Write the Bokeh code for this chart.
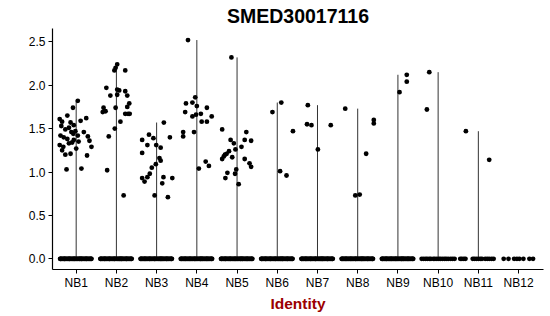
from bokeh.plotting import figure
from bokeh.models import FixedTicker, NumeralTickFormatter, ColumnDataSource
from bokeh.embed import file_html
from bokeh.resources import INLINE

# ---------------- data ----------------
categories = ["NB1", "NB2", "NB3", "NB4", "NB5", "NB6",
              "NB7", "NB8", "NB9", "NB10", "NB11", "NB12"]

# non-zero expression values per cluster and their jitter offsets (category units)
nb1_expr = [1.82, 1.74, 1.65, 1.62, 1.61, 1.58, 1.53, 1.57, 1.54, 1.59, 1.49, 1.51,
            1.46, 1.44, 1.47, 1.46, 1.42, 1.40, 1.38, 1.37, 1.42, 1.41, 1.33, 1.34,
            1.35, 1.31, 1.29, 1.29, 1.27, 1.25, 1.20, 1.21, 1.19, 1.03, 1.04, 1.36]
nb1_jit = [0.04, -0.08, -0.22, 0.25, -0.41, -0.35, -0.37, -0.14, -0.06, 0.11, -0.27, -0.18,
           -0.12, -0.07, -0.02, 0.19, -0.39, -0.31, -0.22, -0.06, 0.04, 0.29, -0.18, -0.10,
           0.06, -0.41, -0.32, 0.38, 0.00, -0.35, -0.27, -0.14, 0.27, -0.24, 0.13, 0.33]

nb2_expr = [2.24, 2.20, 2.17, 2.17, 1.97, 1.95, 1.94, 1.93, 1.88, 1.89, 1.88, 1.79,
            1.74, 1.70, 1.69, 1.74, 1.75, 1.67, 1.67, 1.67, 1.58, 1.50, 1.41, 1.02, 0.73]
nb2_jit = [0.02, -0.02, -0.05, 0.22, -0.25, 0.02, 0.07, 0.22, -0.15, 0.02, 0.27, 0.32,
           -0.32, -0.27, -0.34, -0.02, 0.27, 0.22, 0.29, 0.33, 0.10, -0.04, -0.19, -0.23, 0.18]

nb3_expr = [1.57, 1.37, 1.43, 1.39, 1.31, 1.31, 1.28, 1.40, 1.22, 1.09, 1.05,
            1.16, 1.13, 0.98, 0.94, 0.93, 0.89, 0.94, 0.87, 0.93, 0.73, 0.71]
nb3_jit = [0.18, -0.36, -0.19, -0.08, -0.23, -0.01, 0.10, 0.33, -0.36, -0.02, -0.12,
           0.07, 0.10, -0.17, -0.23, -0.36, -0.30, 0.17, 0.14, 0.39, -0.05, 0.28]

nb4_expr = [2.52, 1.86, 1.79, 1.80, 1.76, 1.74, 1.69, 1.64, 1.66, 1.67,
            1.64, 1.58, 1.58, 1.46, 1.41, 1.46, 1.04, 1.12, 1.07]
nb4_jit = [-0.22, -0.04, -0.27, -0.11, 0.00, 0.25, -0.29, -0.11, -0.02, 0.10,
           0.37, 0.12, 0.25, -0.34, -0.34, -0.07, 0.05, 0.22, 0.30]

nb5_expr = [2.32, 1.49, 1.46, 1.37, 1.33, 1.37, 1.36, 1.29, 1.26, 1.24, 1.21, 1.20,
            1.18, 1.15, 1.17, 1.15, 1.10, 1.06, 1.03, 0.98, 0.99, 0.93, 0.86]
nb5_jit = [-0.14, -0.37, 0.23, -0.16, -0.08, 0.19, 0.35, 0.11, -0.04, -0.20, -0.26, -0.30,
           -0.33, -0.37, -0.12, 0.19, 0.31, 0.35, -0.02, -0.05, -0.24, -0.29, 0.04]

nb6_expr = [1.80, 1.69, 1.47, 1.01, 0.96]
nb6_jit = [0.10, -0.12, 0.39, 0.07, 0.23]

nb7_expr = [1.77, 1.55, 1.54, 1.26, 1.54]
nb7_jit = [-0.24, -0.26, -0.15, 0.01, 0.33]

nb8_expr = [1.73, 1.21, 0.73, 0.74, 1.60, 1.56]
nb8_jit = [-0.31, 0.21, -0.06, 0.05, 0.40, 0.40]

nb9_expr = [2.12, 2.04, 1.92]
nb9_jit = [0.22, 0.22, 0.04]

nb10_expr = [2.15, 1.72]
nb10_jit = [-0.22, -0.28]

nb11_expr = [1.47, 1.14]
nb11_jit = [-0.31, 0.27]

nb12_expr = []
nb12_jit = []

# jitter offsets of the cells with zero expression
zero_jit_dense = [-0.40, -0.38, -0.36, -0.34, -0.32, -0.30, -0.28, -0.26, -0.24, -0.22,
                  -0.20, -0.18, -0.16, -0.14, -0.12, -0.10, -0.08, -0.06, -0.04, -0.02,
                  0.00, 0.02, 0.04, 0.06, 0.08, 0.10, 0.12, 0.14, 0.16, 0.18, 0.20,
                  0.22, 0.24, 0.26, 0.28, 0.30, 0.32, 0.34, 0.36, 0.38, -0.39, 0.37,
                  -0.17, 0.09, -0.05, 0.25, -0.29, 0.13]
zero_jit_nb10 = [-0.41, -0.36, -0.31, -0.27, -0.22, -0.18, -0.12, -0.08, -0.03, 0.02,
                 0.06, 0.11, 0.16, 0.20, 0.25, 0.31, 0.36, 0.41]
zero_jit_nb11 = [-0.45, -0.41, -0.36, -0.32, -0.14, -0.10, -0.05, 0.00, 0.05, 0.09,
                 0.17, 0.22, 0.27, 0.33, 0.38]
zero_jit_nb12 = [-0.37, -0.25, -0.11, -0.04, 0.02, 0.12, 0.27, 0.36]

expr_by_group = [nb1_expr, nb2_expr, nb3_expr, nb4_expr, nb5_expr, nb6_expr,
                 nb7_expr, nb8_expr, nb9_expr, nb10_expr, nb11_expr, nb12_expr]
jit_by_group = [nb1_jit, nb2_jit, nb3_jit, nb4_jit, nb5_jit, nb6_jit,
                nb7_jit, nb8_jit, nb9_jit, nb10_jit, nb11_jit, nb12_jit]
zero_by_group = [zero_jit_dense] * 9 + [zero_jit_nb10, zero_jit_nb11, zero_jit_nb12]

# ---------------- build ----------------
xs, ys = [], []
for i, (vals, jits, zj) in enumerate(zip(expr_by_group, jit_by_group, zero_by_group)):
    pos = i + 1
    for v, j in zip(vals, jits):
        xs.append(pos + j)
        ys.append(v)
    for j in zj:
        xs.append(pos + j)
        ys.append(0.0)

vx = [i + 1 for i in range(len(categories))]
vtop = [max(v) if v else 0.0 for v in expr_by_group]

p = figure(width=550, height=316, x_range=(0.411, 12.62), y_range=(-0.123, 2.653),
           output_backend="svg", toolbar_location=None,
           min_border_left=52, min_border_right=7, min_border_top=28, min_border_bottom=47)

p.title.text = "SMED30017116"
p.title.align = "center"
p.title.text_font = "Liberation Sans"
p.title.text_font_size = "19.5px"
p.title.text_font_style = "bold"
p.title.text_color = "black"
p.title.standoff = 3

p.segment(x0=vx, y0=[0.0] * len(vx), x1=vx, y1=vtop, line_color="#333333", line_width=1)
p.scatter(x="x", y="y", source=ColumnDataSource(dict(x=xs, y=ys)), size=4.8,
          fill_color="black", line_color="black", line_width=0)

p.xgrid.visible = False
p.ygrid.visible = False
p.outline_line_color = None
p.background_fill_color = "white"
p.border_fill_color = "white"

for ax in (p.xaxis[0], p.yaxis[0]):
    ax.axis_line_color = "black"
    ax.axis_line_width = 1.2
    ax.major_tick_line_color = "black"
    ax.major_tick_out = 4
    ax.major_tick_in = 0
    ax.minor_tick_out = 0
    ax.minor_tick_in = 0
    ax.major_label_text_font = "Liberation Sans"
    ax.major_label_text_font_size = "12px"
    ax.major_label_text_color = "black"

p.xaxis.ticker = FixedTicker(ticks=vx)
p.xaxis.major_label_overrides = {i + 1: c for i, c in enumerate(categories)}
p.xaxis.major_label_standoff = 2
p.xaxis.axis_label = "Identity"
p.xaxis.axis_label_text_font = "Liberation Sans"
p.xaxis.axis_label_text_font_size = "15.5px"
p.xaxis.axis_label_text_font_style = "bold"
p.xaxis.axis_label_text_color = "#9b0000"
p.xaxis.axis_label_standoff = 2

p.yaxis.ticker = FixedTicker(ticks=[0.0, 0.5, 1.0, 1.5, 2.0, 2.5])
p.yaxis.formatter = NumeralTickFormatter(format="0.0")
p.yaxis.major_label_standoff = 3

open("out.html", "w").write(file_html(p, INLINE))
